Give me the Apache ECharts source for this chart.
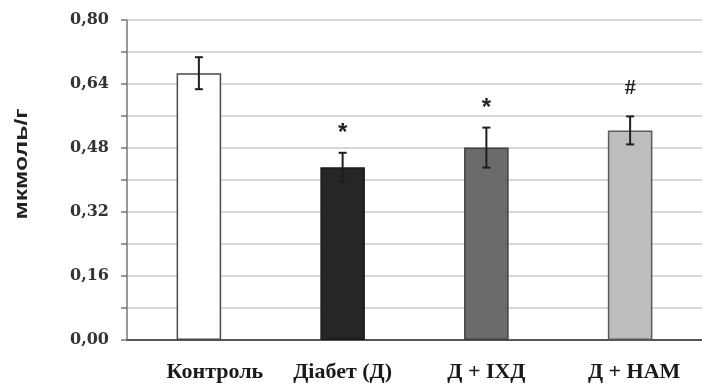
<!DOCTYPE html>
<html>
<head>
<meta charset="utf-8">
<script src="https://cdn.jsdelivr.net/npm/echarts@6/dist/echarts.min.js"></script>
<style>html,body{margin:0;padding:0;background:#fff}#c{width:702px;height:385px}</style>
</head>
<body>
<div id="c"></div>
<script>
const categories = ['Контроль', 'Діабет (Д)', 'Д + ІХД', 'Д + НАМ'];
const means = [0.667, 0.432, 0.481, 0.524];
const errors = [0.040, 0.036, 0.050, 0.035];
const marks = ['', '*', '*', '#'];
const yTickLabels = ['0,00', '0,16', '0,32', '0,48', '0,64', '0,80'];
const yAxisTitle = 'мкмоль/г';

const fills = ['#ffffff', '#262626', '#6b6b6b', '#bdbdbd'];
const borders = ['#4a4a4a', '#1a1a1a', '#404040', '#5a5a5a'];
const labelShift = [32, 0, 0, 8];

const chart = echarts.init(document.getElementById('c'), null, {renderer: 'canvas'});
chart.setOption({
  animation: false,
  backgroundColor: '#fff',
  grid: {left: 127, top: 20, width: 578, height: 320, containLabel: false},
  xAxis: {
    type: 'category',
    data: categories.map((c, i) => ({value: c, textStyle: {padding: [0, 0, 0, labelShift[i]]}})),
    axisLine: {lineStyle: {color: '#555', width: 2}},
    axisTick: {show: false},
    axisLabel: {fontFamily: 'Liberation Serif', fontSize: 22, fontWeight: 'bold', color: '#1a1a1a', margin: 21}
  },
  yAxis: {
    type: 'value', min: 0, max: 0.8, interval: 0.08,
    axisLine: {show: true, lineStyle: {color: '#777', width: 1.5}},
    axisTick: {show: true, length: 6, lineStyle: {color: '#777', width: 1.5}},
    splitLine: {lineStyle: {color: '#d8d8d8', width: 2}},
    axisLabel: {
      fontFamily: 'DejaVu Serif', fontSize: 16, fontWeight: 'bold', color: '#333', margin: 18,
      formatter: function (v) {
        const k = Math.round(v * 100);
        if (k % 16 !== 0) return '';
        return yTickLabels[k / 16] || '';
      }
    }
  },
  graphic: [{
    type: 'text', x: 22, y: 164, rotation: Math.PI / 2, scaleX: 1.3,
    style: {text: yAxisTitle, font: 'bold 19px "Liberation Sans"', fill: '#222', textAlign: 'center', textVerticalAlign: 'middle'}
  }],
  series: [
    {
      type: 'bar', barWidth: '31%',
      data: means.map((v, i) => ({value: v, itemStyle: {color: fills[i], borderColor: borders[i], borderWidth: 1.5}})),
      z: 2
    },
    {
      type: 'custom', z: 3,
      data: means.map((v, i) => [i, v - errors[i], v + errors[i]]),
      renderItem: function (params, api) {
        const lo = api.coord([api.value(0), api.value(1)]);
        const hi = api.coord([api.value(0), api.value(2)]);
        const hw = 4;
        const st = {stroke: '#1e1e1e', lineWidth: 2};
        return {type: 'group', children: [
          {type: 'line', shape: {x1: lo[0], y1: lo[1], x2: hi[0], y2: hi[1]}, style: st},
          {type: 'line', shape: {x1: lo[0] - hw, y1: lo[1], x2: lo[0] + hw, y2: lo[1]}, style: st},
          {type: 'line', shape: {x1: hi[0] - hw, y1: hi[1], x2: hi[0] + hw, y2: hi[1]}, style: st}
        ]};
      }
    },
    {
      type: 'custom', z: 4,
      data: means.map((v, i) => [i, v + errors[i]]),
      renderItem: function (params, api) {
        const p = api.coord([api.value(0), api.value(1)]);
        const m = marks[params.dataIndex];
        const isHash = m === '#';
        return {type: 'text', style: {
          text: m, x: p[0], y: p[1] - (isHash ? 28 : 19),
          textAlign: 'center', textVerticalAlign: 'middle',
          font: isHash ? 'bold 22px "Liberation Serif"' : 'bold 24px "Liberation Sans"', fill: '#222'
        }};
      }
    }
  ]
});
</script>
</body>
</html>
